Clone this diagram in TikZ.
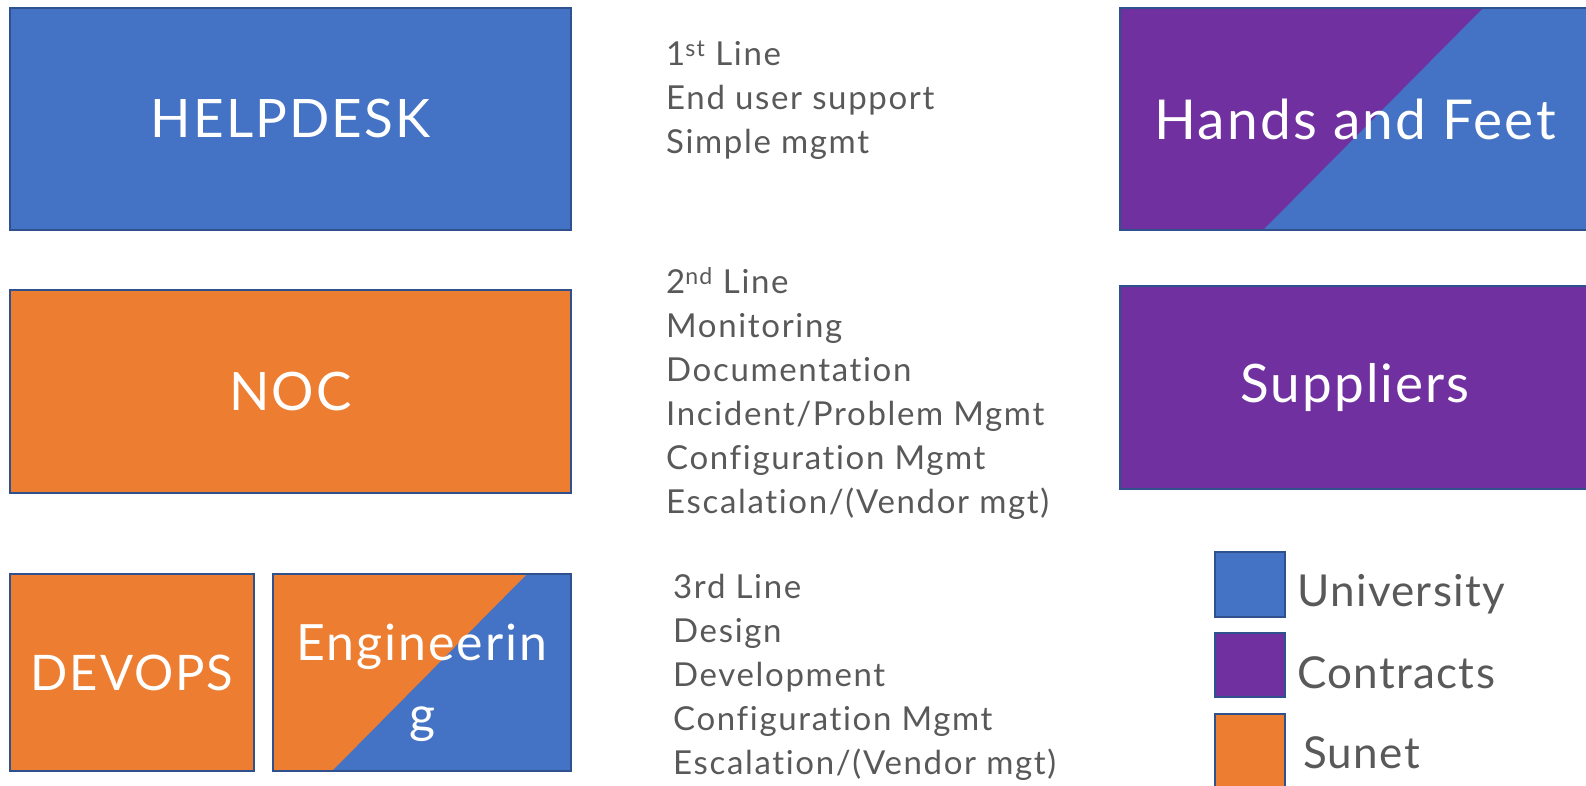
\documentclass[tikz,border=0pt]{standalone}
\usepackage{fontspec}
\setmainfont{Lato}
\newfontfamily\boxfont[LetterSpace=4,Ligatures=NoCommon]{Lato}
\newfontfamily\dutyfont[LetterSpace=5,Ligatures=NoCommon]{Lato}
\newfontfamily\keyfont[LetterSpace=3,Ligatures=NoCommon]{Lato}
\definecolor{uniblue}{HTML}{4472C4}
\definecolor{contpurple}{HTML}{7030A0}
\definecolor{sunorange}{HTML}{ED7D31}
\definecolor{edgeblue}{HTML}{2F528F}
\definecolor{textgray}{HTML}{595959}
\tikzset{
  team/.style={draw=edgeblue, line width=2pt, text=white, inner sep=0pt, align=center,
    font=\boxfont\fontsize{53}{64}\selectfont},
  duty/.style={anchor=north west, align=left, text=textgray, inner sep=0pt,
    font=\dutyfont\fontsize{33}{44}\selectfont},
  key/.style={draw=edgeblue, line width=2pt, minimum width=70pt, inner sep=0pt},
  keytext/.style={anchor=base west, text=textgray, inner sep=0pt, font=\keyfont\fontsize{44}{50}\selectfont}
}
\begin{document}
\begin{tikzpicture}[x=1pt,y=-1pt]
  \useasboundingbox (0,0) rectangle (1586,786);
  % Teams
  \node[team, fill=uniblue, minimum width=561pt, minimum height=222pt] (Help) at (290.5,119) {HELPDESK};
  \node[team, fill=sunorange, minimum width=561pt, minimum height=203pt] (Noc) at (290.5,391.5) {NOC};
  \node[team, fill=sunorange, minimum width=244pt, minimum height=197pt,
    font=\boxfont\fontsize{49}{60}\selectfont] (Devops) at (132,672.5) {DEVOPS};
  \node[team, fill=uniblue, minimum width=298pt, minimum height=197pt,
    font=\boxfont\fontsize{50}{72}\selectfont,
    path picture={\fill[sunorange] (path picture bounding box.north west) -- ++(254,0)
      -- ([xshift=59pt]path picture bounding box.south west) -- (path picture bounding box.south west) -- cycle;}]
    (Eng) at (422,672.5) {\rule{0pt}{1.15em}Engineerin\\g};
  \node[team, fill=uniblue, minimum width=470pt, minimum height=222pt,
    font=\boxfont\fontsize{55}{64}\selectfont,
    path picture={\fill[contpurple] (path picture bounding box.north west) -- ++(363,0)
      -- ([xshift=143pt]path picture bounding box.south west) -- (path picture bounding box.south west) -- cycle;}]
    (Hands) at (1355,119) {Hands and Feet};
  \node[team, fill=contpurple, minimum width=470pt, minimum height=203pt] (Supp) at (1355,387.5) {Suppliers};

  % Duties
  \node[duty] (First) at (666,41) {1\textsuperscript{st} Line\\End user support\\Simple mgmt};
  \node[duty] (Second) at (666,267) {2\textsuperscript{nd} Line\\Monitoring\\Documentation\\Incident/Problem Mgmt\\Configuration Mgmt\\Escalation/(Vendor mgt)};
  \node[duty] (Third) at (673,574) {3rd Line\\Design\\Development\\Configuration Mgmt\\Escalation/(Vendor mgt)};

  % Legend
  \node[key, fill=uniblue, minimum height=65pt] (KeyUni) at (1250,584.5) {};
  \node[key, fill=contpurple, minimum height=64pt] (KeyCon) at (1250,665) {};
  \node[key, fill=sunorange, minimum height=76pt] (KeySun) at (1250,752) {};
  \node[keytext] (UniText) at (1297,606) {University};
  \node[keytext] (ConText) at (1297,688) {Contracts};
  \node[keytext] (SunText) at (1303,768) {Sunet};
\end{tikzpicture}
\end{document}
